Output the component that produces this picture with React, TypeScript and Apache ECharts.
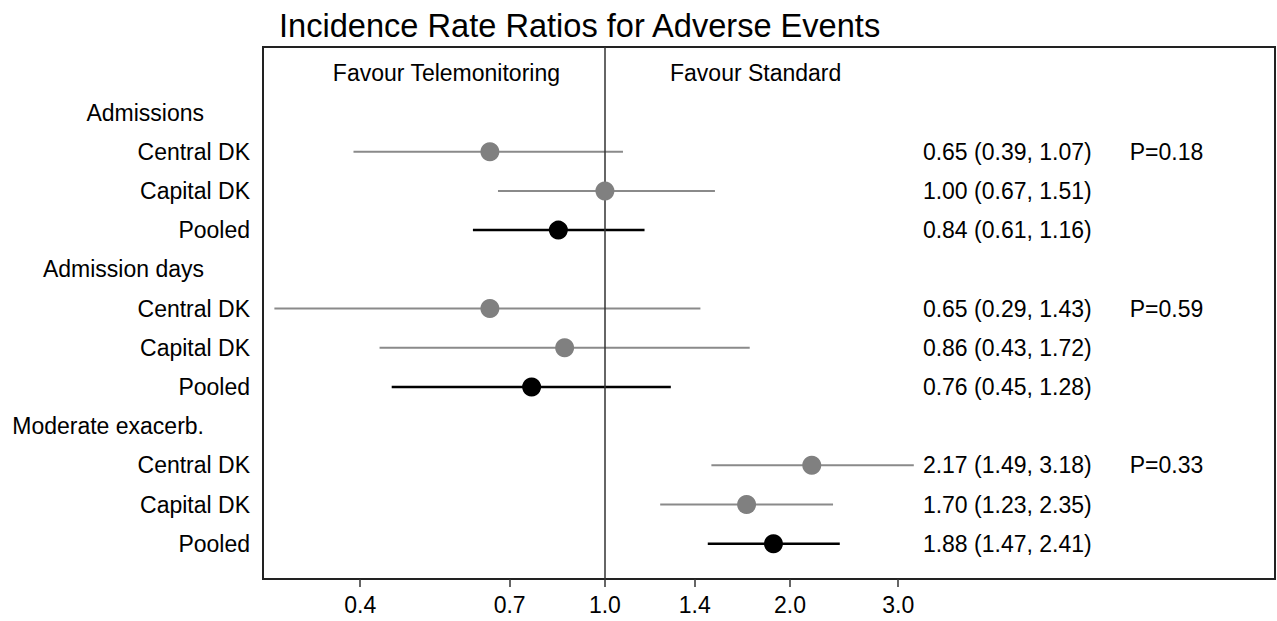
import React, { useEffect, useRef } from 'react';
import * as echarts from 'echarts';

const chartTitle = 'Incidence Rate Ratios for Adverse Events';
const outcomes = ['Admissions', 'Admission days', 'Moderate exacerb.'];
const sites = ['Central DK', 'Capital DK', 'Pooled'];
const estimates = [0.65, 1.0, 0.84, 0.65, 0.86, 0.76, 2.17, 1.7, 1.88];
const lowerCI = [0.39, 0.67, 0.61, 0.29, 0.43, 0.45, 1.49, 1.23, 1.47];
const upperCI = [1.07, 1.51, 1.16, 1.43, 1.72, 1.28, 3.18, 2.35, 2.41];
const pValues = ['P=0.18', 'P=0.59', 'P=0.33'];
const tickValues = [0.4, 0.7, 1.0, 1.4, 2.0, 3.0];
const tickLabels = ['0.4', '0.7', '1.0', '1.4', '2.0', '3.0'];
const favourLabels = ['Favour Telemonitoring', 'Favour Standard'];

const FONT = '"Liberation Sans", Arial, Helvetica, sans-serif';
const TEXT_X = 3.29; // anchor of the estimate column (axis units)
const P_X = 7.14; // anchor of the P column (axis units)

// row index on the y axis: 0 = "Favour" row, then header + 3 site rows per outcome
const rowOf = (i: number) => 2 + 4 * Math.floor(i / 3) + (i % 3);
const rowLabels: { text: string; header: boolean }[] = [{ text: '', header: false }];
outcomes.forEach((o) => {
  rowLabels.push({ text: o, header: true });
  sites.forEach((s) => rowLabels.push({ text: s, header: false }));
});

export default function App() {
  const ref = useRef<HTMLDivElement>(null);
  useEffect(() => {
    if (!ref.current) return;
    const chart = echarts.init(ref.current, undefined, { renderer: 'svg' });
    const idx = estimates.map((_, i) => i);
    const ciText = idx.map(
      (i) => `${estimates[i].toFixed(2)} (${lowerCI[i].toFixed(2)}, ${upperCI[i].toFixed(2)})`
    );
    const textStyle = { fontSize: 23, fontFamily: FONT, fill: '#000' };
    const option: any = {
      animation: false,
      backgroundColor: '#fff',
      grid: {
        left: 263,
        right: 2,
        top: 47,
        bottom: 42,
        show: true,
        borderColor: '#222',
        borderWidth: 2,
        backgroundColor: 'transparent',
      },
      xAxis: {
        type: 'log',
        logBase: 10,
        min: 0.2779,
        max: 12.3,
        axisLine: { show: false, onZero: false },
        splitLine: { show: false },
        minorTick: { show: false },
        axisTick: {
          show: true,
          customValues: tickValues,
          length: 8,
          lineStyle: { color: '#333', width: 1.5 },
        },
        axisLabel: {
          customValues: tickValues,
          formatter: (v: number) => {
            let best = 0;
            tickValues.forEach((t, k) => {
              if (Math.abs(t - v) < Math.abs(tickValues[best] - v)) best = k;
            });
            return tickLabels[best];
          },
          margin: 14,
          fontSize: 23,
          fontFamily: FONT,
          color: '#000',
        },
      },
      yAxis: {
        type: 'value',
        inverse: true,
        min: -0.671,
        max: 12.9,
        axisLine: { show: false, onZero: false },
        axisTick: { show: false },
        splitLine: { show: false },
        axisLabel: {
          customValues: rowLabels.map((_, k) => k),
          margin: 13,
          formatter: (v: number) => {
            const r = rowLabels[Math.round(v)];
            if (!r || !r.text) return '';
            return r.header ? `{h|${r.text}}` : `{r|${r.text}}`;
          },
          rich: {
            h: { fontSize: 23, fontFamily: FONT, color: '#000', padding: [0, 46, 0, 0] },
            r: { fontSize: 23, fontFamily: FONT, color: '#000' },
          },
        },
      },
      graphic: [
        {
          type: 'text',
          x: 279,
          y: 25,
          style: { text: chartTitle, fontSize: 32.6, fontFamily: FONT, fill: '#000', verticalAlign: 'middle', align: 'left' },
        },
        {
          type: 'text',
          x: 560,
          y: 73,
          style: { text: favourLabels[0], ...textStyle, verticalAlign: 'middle', align: 'right' },
        },
        {
          type: 'text',
          x: 670,
          y: 73,
          style: { text: favourLabels[1], ...textStyle, verticalAlign: 'middle', align: 'left' },
        },
      ],
      series: [
        {
          type: 'custom',
          z: 2,
          data: idx.map((i) => [lowerCI[i], upperCI[i], rowOf(i), i % 3 === 2 ? 1 : 0]),
          encode: { x: [0, 1], y: 2 },
          renderItem: (params: any, api: any) => {
            const a = api.coord([api.value(0), api.value(2)]);
            const b = api.coord([api.value(1), api.value(2)]);
            const pooled = api.value(3) === 1;
            return {
              type: 'line',
              shape: { x1: a[0], y1: a[1], x2: b[0], y2: b[1] },
              style: { stroke: pooled ? '#000' : '#8a8a8a', lineWidth: pooled ? 2.5 : 2 },
            };
          },
          markLine: {
            silent: true,
            symbol: 'none',
            z: 3,
            label: { show: false },
            lineStyle: { color: '#333', width: 1.5, type: 'solid' },
            data: [{ xAxis: 1 }],
          },
        },
        {
          type: 'scatter',
          z: 5,
          symbol: 'circle',
          symbolSize: 19,
          itemStyle: { color: '#808080', opacity: 1 },
          data: idx.filter((i) => i % 3 !== 2).map((i) => [estimates[i], rowOf(i)]),
        },
        {
          type: 'scatter',
          z: 5,
          symbol: 'circle',
          symbolSize: 19,
          itemStyle: { color: '#000', opacity: 1 },
          data: idx.filter((i) => i % 3 === 2).map((i) => [estimates[i], rowOf(i)]),
        },
        {
          type: 'custom',
          z: 4,
          data: idx.map((i) => [TEXT_X, rowOf(i)]),
          encode: { x: 0, y: 1 },
          renderItem: (params: any, api: any) => {
            const p = api.coord([api.value(0), api.value(1)]);
            return {
              type: 'text',
              x: p[0],
              y: p[1],
              style: { text: ciText[params.dataIndex], ...textStyle, align: 'left', verticalAlign: 'middle' },
            };
          },
        },
        {
          type: 'custom',
          z: 4,
          data: pValues.map((_, g) => [P_X, rowOf(g * 3)]),
          encode: { x: 0, y: 1 },
          renderItem: (params: any, api: any) => {
            const p = api.coord([api.value(0), api.value(1)]);
            return {
              type: 'text',
              x: p[0],
              y: p[1],
              style: { text: pValues[params.dataIndex], ...textStyle, align: 'left', verticalAlign: 'middle' },
            };
          },
        },
      ],
    };
    chart.setOption(option);
    return () => chart.dispose();
  }, []);
  return (
    <div
      ref={ref}
      style={{ position: 'fixed', left: 0, top: 0, width: 1277, height: 621, background: '#fff' }}
    />
  );
}
